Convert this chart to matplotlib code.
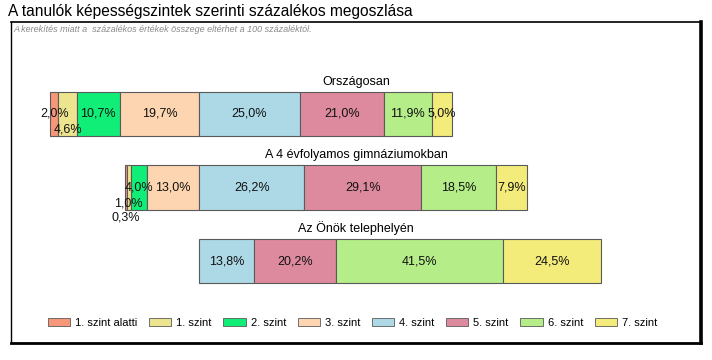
import matplotlib.pyplot as plt
from matplotlib.patches import Patch

plt.rcParams['font.family'] = ['Liberation Sans', 'DejaVu Sans']

title = "A tanulók képességszintek szerinti százalékos megoszlása"
note = "A kerekítés miatt a  százalékos értékek összege eltérhet a 100 százaléktól."

levels = ["1. szint alatti", "1. szint", "2. szint", "3. szint",
          "4. szint", "5. szint", "6. szint", "7. szint"]
colors = ["#F7977A", "#ECE48E", "#10EE78", "#FDD5B1",
          "#ADD8E6", "#DE8A9E", "#B5EE88", "#F3EB7A"]

rows = ["Országosan", "A 4 évfolyamos gimnáziumokban", "Az Önök telephelyén"]
orszagos = [2.0, 4.6, 10.7, 19.7, 25.0, 21.0, 11.9, 5.0]
gimnazium = [0.3, 1.0, 4.0, 13.0, 26.2, 29.1, 18.5, 7.9]
telephely = [0.0, 0.0, 0.0, 0.0, 13.8, 20.2, 41.5, 24.5]
values = [orszagos, gimnazium, telephely]

# labels of very narrow segments are pushed down (points), like the original
label_shift = {(0, 1): -11.5, (1, 1): -11.5, (1, 0): -21.5}

fig = plt.figure(figsize=(7.12, 3.6), dpi=100)
W, H = 712, 360
ax = fig.add_axes([11 / W, (H - 343) / H, 690 / W, 321 / H])

bar_h = 0.6
for r, vals in enumerate(values):
    # levels below 4. szint go to the left of zero, the rest to the right
    left = -sum(vals[:4])
    for i, v in enumerate(vals):
        if v > 0:
            ax.barh(r, v, left=left, height=bar_h, color=colors[i],
                    edgecolor="#5a5a5a", linewidth=0.8)
            lab = f"{v:.1f}%".replace(".", ",")
            ax.annotate(lab, (left + v / 2, r), xytext=(0, label_shift.get((r, i), 0)),
                        textcoords="offset points", ha="center", va="center",
                        fontsize=9, color="#111111")
        left += v
    ax.annotate(rows[r], (0.5, r - bar_h / 2), xycoords=("axes fraction", "data"),
                xytext=(0, 3), textcoords="offset points", ha="center",
                va="bottom", fontsize=9)

s = 4.02  # pixels per percent
ax.set_xlim(-(199 - 11) / s, (701 - 199) / s)
ax.set_ylim((343 - 114) / 73.5, -(114 - 22) / 73.5)
ax.set_xticks([])
ax.set_yticks([])
for side, lw in [("left", 1), ("top", 1.2), ("right", 2.6), ("bottom", 2)]:
    ax.spines[side].set_linewidth(lw)
    ax.spines[side].set_color("black")

handles = [Patch(facecolor=c, edgecolor="#5a5a5a", linewidth=0.6) for c in colors]
ax.legend(handles, levels, loc="center", bbox_to_anchor=(0.495, (343 - 323) / 321),
          ncol=8, frameon=False, fontsize=8, handlelength=2.0, handleheight=0.75,
          handletextpad=0.45, columnspacing=1.05)

fig.text(8 / W, 1 - 16 / H, title, fontsize=11.2, va="baseline", ha="left")
fig.text(13 / W, 1 - 32 / H, note, fontsize=6.5, style="italic", color="#8a8a8a",
         va="baseline", ha="left")

fig.savefig("out.png", dpi=100)
